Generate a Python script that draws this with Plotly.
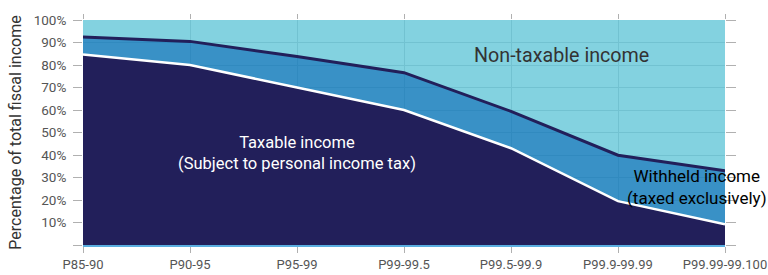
import plotly.graph_objects as go

categories = ["P85-90", "P90-95", "P95-99", "P99-99.5", "P99.5-99.9", "P99.9-99.99", "P99.99-99.100"]
taxable = [84.7, 80.0, 70.0, 60.0, 43.0, 19.5, 9.2]
withheld = [7.7, 10.5, 13.8, 16.6, 16.4, 20.4, 23.8]
non_taxable = [round(100 - t - w, 1) for t, w in zip(taxable, withheld)]
y_ticks = [0, 10, 20, 30, 40, 50, 60, 70, 80, 90, 100]
y_ticktext = [""] + [f"{v}%" for v in y_ticks[1:]]

NAVY = "#221f5a"
LIGHT = "#80d1df"
FONT = "Roboto"

fig = go.Figure()
fig.add_trace(go.Scatter(x=categories, y=taxable, stackgroup="one", mode="lines",
                         line=dict(color="white", width=2.5), fillcolor=NAVY, name="Taxable",
                         hoverinfo="skip"))
fig.add_trace(go.Scatter(x=categories, y=withheld, stackgroup="one", mode="lines",
                         line=dict(color=NAVY, width=3), fillcolor="rgba(30,130,190,0.88)", name="Withheld",
                         hoverinfo="skip"))
fig.add_trace(go.Scatter(x=categories, y=non_taxable, stackgroup="one", mode="lines",
                         line=dict(color=LIGHT, width=0), fillcolor="rgba(90,195,214,0.75)", name="Non-taxable",
                         hoverinfo="skip"))
# invisible helper so the mirrored tick axes (top / right) are drawn
fig.add_trace(go.Scatter(x=categories, y=taxable, xaxis="x2", yaxis="y2", mode="lines",
                         line=dict(width=0, color="rgba(0,0,0,0)"), hoverinfo="skip", showlegend=False))

grid = "#bcc0c4"
tickc = "#b0b0b0"
fig.update_layout(
    width=768, height=275,
    margin=dict(l=83, r=43, t=19.5, b=30),
    paper_bgcolor="white", plot_bgcolor="white",
    showlegend=False,
    font=dict(family=FONT, color="#555"),
    xaxis=dict(type="category", range=[0, 6], showgrid=True, gridcolor=grid, gridwidth=1,
               ticks="outside", ticklen=6, tickcolor=tickc, automargin=False,
               showline=True, linecolor="#5aaee0", linewidth=2,
               tickfont=dict(size=13, color="#555"), zeroline=False),
    xaxis2=dict(type="category", range=[0, 6], overlaying="x", side="top",
                showgrid=False, ticks="outside", ticklen=5, tickcolor=tickc, automargin=False,
                showticklabels=False, zeroline=False),
    yaxis=dict(range=[0, 100], tickvals=y_ticks, ticktext=y_ticktext, showgrid=True,
               gridcolor=grid, ticks="outside", ticklen=9, tickcolor=tickc, automargin=False,
               zeroline=False, tickfont=dict(size=13.5, color="#555"), ticklabelstandoff=4,
               title=dict(text="Percentage of total fiscal income", font=dict(size=16, color="#333"),
                          standoff=8)),
    yaxis2=dict(range=[0, 100], overlaying="y", side="right", tickvals=y_ticks, showgrid=False,
                ticks="outside", ticklen=10, tickcolor=tickc, showticklabels=False, zeroline=False,
                automargin=False),
)

fig.add_annotation(text="Non-taxable income", xref="paper", yref="paper", x=0.745, y=0.843,
                   xanchor="center", yanchor="middle",
                   showarrow=False, font=dict(size=19.7, color="#333", family=FONT))
fig.add_annotation(text="Taxable income<br>(Subject to personal income tax)", xref="paper", yref="paper",
                   x=0.334, y=0.41, xanchor="center", yanchor="middle",
                   showarrow=False, font=dict(size=16.5, color="white", family=FONT))
fig.add_annotation(text="Withheld income<br>(taxed exclusively)", xref="paper", yref="paper",
                   x=0.956, y=0.26, xanchor="center", yanchor="middle",
                   showarrow=False, font=dict(size=17, color="black", family=FONT))

fig.write_html("out.html", config={"displayModeBar": False},
               post_script="document.body.style.margin='0';document.body.style.overflow='hidden';")
